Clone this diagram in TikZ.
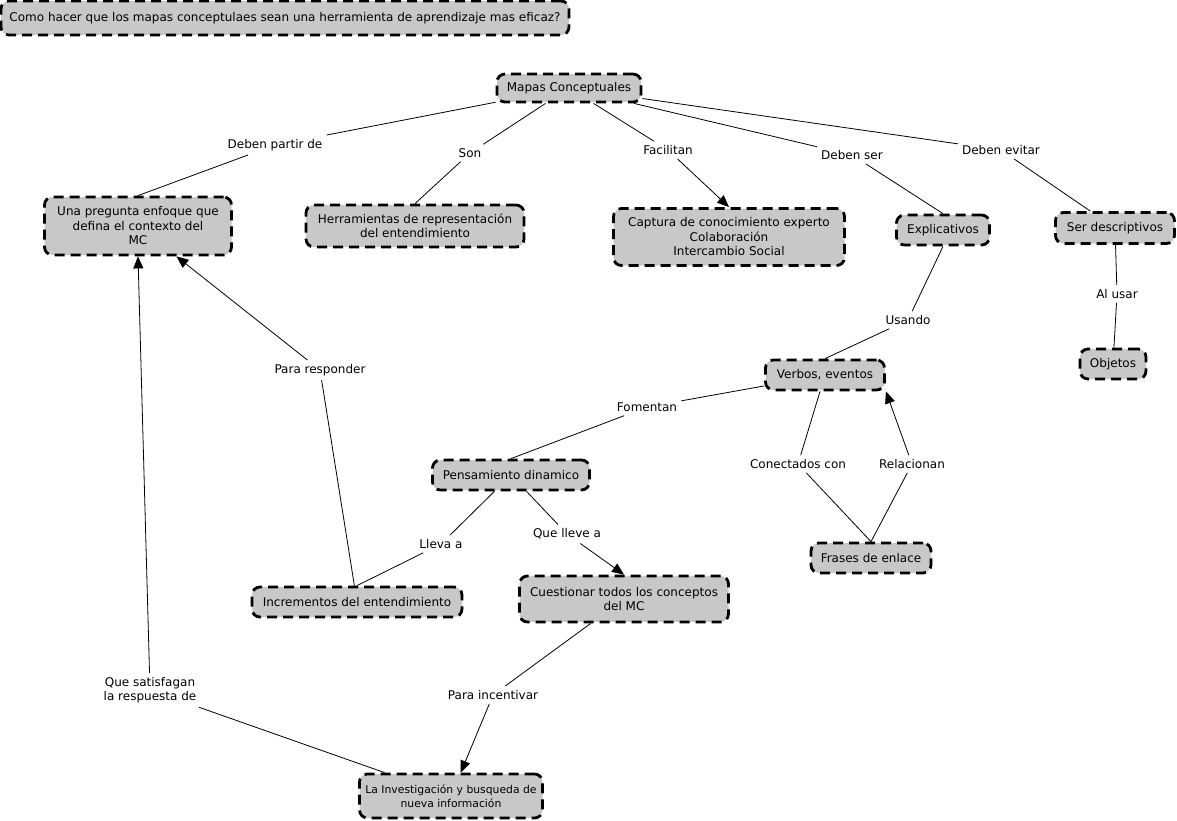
\documentclass[tikz,border=0pt]{standalone}
\usepackage{fontspec}
\setmainfont{DejaVu Sans}
\usetikzlibrary{arrows.meta}
\definecolor{concgray}{RGB}{200,200,200}
\begin{document}
\begin{tikzpicture}[x=1pt,y=-1pt,
  every node/.style={font=\fontsize{12}{14.5}\selectfont},
  concept/.style={draw, dash pattern=on 10pt off 6pt, line width=2.8pt, rounded corners=8pt,
    fill=concgray, inner xsep=4pt, inner ysep=4pt, align=center},
  sz/.style 2 args={minimum width=#1pt, minimum height=#2pt},
  lab/.style={inner sep=4pt, align=center},
  link/.style={line width=0.8pt},
  arr/.style={link, -{Triangle[length=12pt,width=10pt]}}]
\useasboundingbox (0,0) rectangle (1177,820);
% concepts
\node[concept, sz={568}{34}] (title) at (285,18) {Como hacer que los mapas conceptulaes sean una herramienta de aprendizaje mas eficaz?};
\node[concept, sz={144}{28}] (mapas) at (569,88) {Mapas Conceptuales};
\node[concept, sz={187}{58}] (pregunta) at (138,226) {Una pregunta enfoque que\\defina el contexto del\\MC};
\node[concept, sz={218}{42}] (herram) at (415,226) {Herramientas de representación\\del entendimiento};
\node[concept, sz={231}{57}] (captura) at (729,237) {Captura de conocimiento experto\\Colaboración\\Intercambio Social};
\node[concept, sz={93}{30}] (explic) at (943,230) {Explicativos};
\node[concept, sz={119}{31}] (serdesc) at (1115,228) {Ser descriptivos};
\node[concept, sz={66}{30}] (objetos) at (1113,364) {Objetos};
\node[concept, sz={119}{30}] (verbos) at (825,375) {Verbos, eventos};
\node[concept, sz={157}{30}] (pensam) at (511,475) {Pensamiento dinamico};
\node[concept, sz={120}{30}] (frases) at (871,558) {Frases de enlace};
\node[concept, sz={210}{30}] (increm) at (357,602) {Incrementos del entendimiento};
\node[concept, sz={209}{46}] (cuest) at (624,599) {Cuestionar todos los conceptos\\del MC};
\node[concept, sz={183}{44}, inner xsep=1pt, font=\fontsize{10.8}{14.5}\selectfont] (invest) at (451,796) {La Investigación y busqueda de\\nueva información};
% labels
\node[lab] (lpartir) at (275,145) {Deben partir de};
\node[lab] (lson) at (470,153) {Son};
\node[lab] (lfacil) at (668,150) {Facilitan};
\node[lab] (lser) at (852,155) {Deben ser};
\node[lab] (levitar) at (1001,150) {Deben evitar};
\node[lab] (lusando) at (908,320) {Usando};
\node[lab] (lalusar) at (1117,294) {Al usar};
\node[lab] (lresp) at (320,370) {Para responder};
\node[lab] (lfoment) at (647,407) {Fomentan};
\node[lab] (lconect) at (798,464) {Conectados con};
\node[lab] (lrelac) at (912,464) {Relacionan};
\node[lab] (llleva) at (441,544) {Lleva a};
\node[lab] (lque) at (567,534) {Que lleve a};
\node[lab] (lsatis) at (150,690) {Que satisfagan\\la respuesta de};
\node[lab] (lincent) at (493,695) {Para incentivar};
% connectors
\draw[link] (mapas) -- (lpartir);
\draw[link] (lpartir) -- (pregunta.north);
\draw[link] (mapas) -- (lson);
\draw[link] (lson) -- (herram.north);
\draw[link] (mapas) -- (lfacil);
\draw[arr] (lfacil) -- (captura.north);
\draw[link] (mapas) -- (lser);
\draw[link] (lser) -- (explic.north);
\draw[link] (mapas) -- (levitar);
\draw[link] (levitar) -- (serdesc);
\draw[link] (explic.south) -- (lusando);
\draw[link] (lusando) -- (verbos.north);
\draw[link] (serdesc) -- (lalusar);
\draw[link] (lalusar) -- (objetos);
\draw[link] (verbos) -- (lfoment);
\draw[link] (lfoment) -- (pensam.north);
\draw[link] (verbos) -- (lconect);
\draw[link] (lconect) -- (frases.north);
\draw[link] (frases.north) -- (lrelac);
\draw[arr] (lrelac) -- (verbos.south east);
\draw[link] (pensam) -- (llleva);
\draw[link] (llleva) -- (increm.north);
\draw[link] (pensam) -- (lque);
\draw[arr] (lque) -- (cuest.north);
\draw[link] (increm) -- (lresp);
\draw[arr] (lresp) -- (pregunta);
\draw[link] (cuest) -- (lincent);
\draw[arr] (lincent) -- (invest);
\draw[link] (invest) -- (lsatis);
\draw[arr] (lsatis) -- (pregunta.south);
\end{tikzpicture}
\end{document}
